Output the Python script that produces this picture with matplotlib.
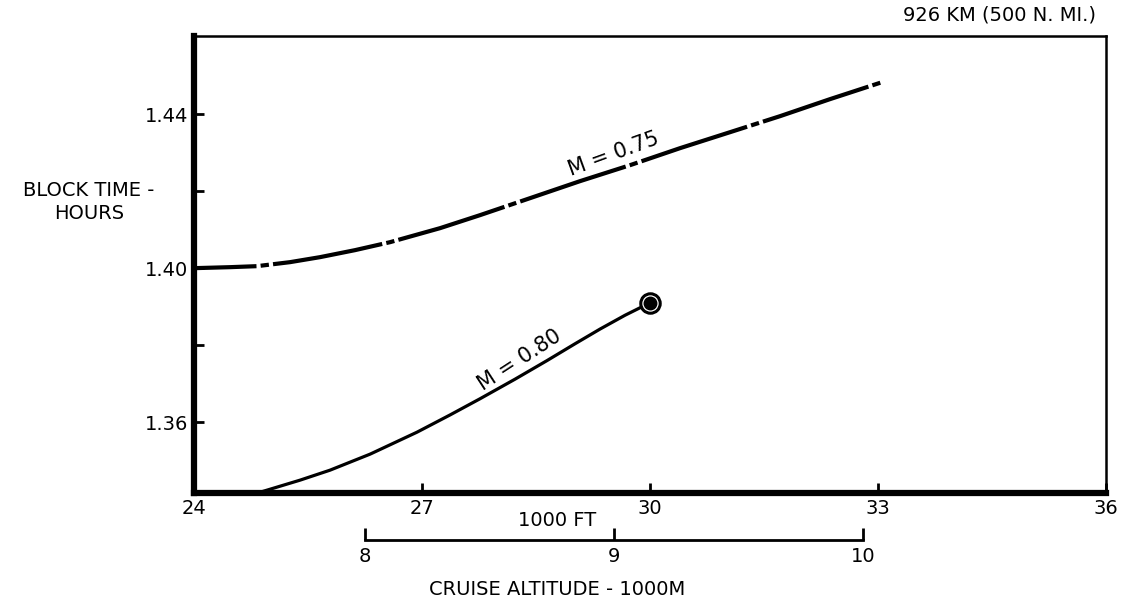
#!/usr/bin/env python3
# -*- coding: utf-8 -*-

import matplotlib
matplotlib.use("Agg")
import matplotlib.pyplot as plt

# cruise altitude (1000 ft) / block time (hours)
alt_m075 = [24.000, 24.474, 24.829, 25.263, 25.658, 26.118, 26.579, 27.237, 27.763,
	28.421, 29.079, 29.737, 30.395, 31.053, 31.711, 32.368, 33.053]
time_m075 = [1.40000, 1.40026, 1.40052, 1.40156, 1.40286, 1.40468, 1.40675, 1.41039, 1.41377,
	1.41818, 1.42260, 1.42675, 1.43117, 1.43532, 1.43948, 1.44390, 1.44831]

alt_m080 = [24.829, 25.395, 25.789, 26.316, 26.934, 27.368, 27.763, 28.224, 28.645,
	29.013, 29.342, 29.671, 30.000]
time_m080 = [1.34156, 1.34494, 1.34753, 1.35169, 1.35740, 1.36187, 1.36608, 1.37117, 1.37600,
	1.38036, 1.38418, 1.38777, 1.39101]

xticks = [24, 27, 30, 33, 36]
yticks = [1.36, 1.40, 1.44]
yminor = [1.38, 1.42]
km_ticks = [8, 9, 10]

FT_PER_KM = 3.28084

plt.rcParams['font.family'] = ['DejaVu Sans']
plt.rcParams['lines.scale_dashes'] = False

fig = plt.figure(figsize=(11.3, 6.03), dpi=100)
ax = fig.add_axes([0.1717, 0.1824, 0.8071, 0.7579])

ax.plot(alt_m075, time_m075, color='black', lw=3.0,
	linestyle=(35, (80, 3, 6, 3)), solid_capstyle='round')
ax.plot(alt_m080, time_m080, color='black', lw=2.3)
ax.plot(alt_m080[-1], time_m080[-1], marker='o', ms=14, mfc='white', mec='black', mew=2.2)
ax.plot(alt_m080[-1], time_m080[-1], marker='o', ms=9, color='black')

ax.text(29.566, 1.42727, 'M = 0.75', fontsize=15, rotation=20, ha='center', va='bottom',
	rotation_mode='anchor')
ax.text(28.355, 1.37403, 'M = 0.80', fontsize=15, rotation=33, ha='center', va='bottom',
	rotation_mode='anchor')

ax.set_xlim(24, 36)
ax.set_ylim(1.3416, 1.4603)
ax.set_xticks(xticks)
ax.set_xticklabels([str(t) for t in xticks])
ax.set_yticks(yticks)
ax.set_yticklabels(['%.2f' % t for t in yticks])
ax.set_yticks(yminor, minor=True)
ax.tick_params(axis='both', which='both', direction='in', labelsize=14, width=2, length=7,
	color='black')
ax.tick_params(axis='x', pad=4)
ax.tick_params(axis='y', pad=4)

for side in ['left', 'bottom']:
	ax.spines[side].set_linewidth(4.5)
for side in ['top', 'right']:
	ax.spines[side].set_linewidth(1.8)

# metric scale under the axis
sec = ax.secondary_xaxis(-0.103, functions=(lambda x: x / FT_PER_KM, lambda x: x * FT_PER_KM))
sec.set_xticks(km_ticks)
sec.set_xticklabels([str(t) for t in km_ticks])
sec.spines['bottom'].set_bounds(8, 10)
sec.spines['bottom'].set_linewidth(2)
sec.tick_params(direction='in', length=9, width=2, labelsize=14, pad=5)

ax.text(0.3985, -0.061, '1000 FT', transform=ax.transAxes, fontsize=14, ha='center',
	va='center')
ax.text(0.3985, -0.212, 'CRUISE ALTITUDE - 1000M', transform=ax.transAxes, fontsize=14,
	ha='center', va='center')
fig.text(0.0785, 0.665, 'BLOCK TIME -\nHOURS', fontsize=14, ha='center', va='center',
	linespacing=1.3)
fig.text(0.8845, 0.975, '926 KM (500 N. MI.)', fontsize=14, ha='center', va='center')

fig.savefig('out.png', dpi=100)
